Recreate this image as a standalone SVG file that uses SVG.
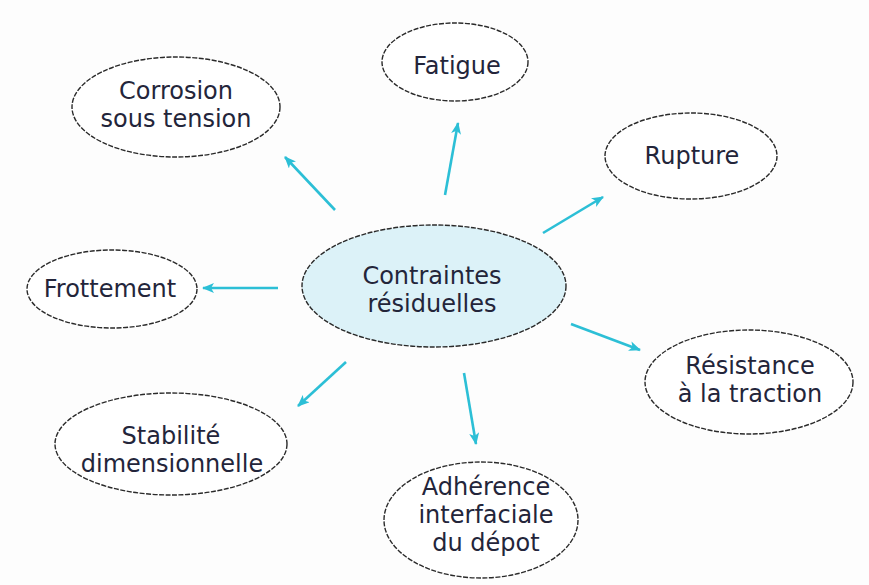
<svg xmlns="http://www.w3.org/2000/svg" width="869" height="585" viewBox="0 0 869 585">
<defs>
<style>
.node ellipse{fill:#ffffff;stroke:#2a2a2a;stroke-width:1.4;stroke-dasharray:5 1.5}
#center ellipse{fill:#dcf2f8}
text{font-family:"DejaVu Sans","Open Sans","Liberation Sans",sans-serif;font-size:24px;fill:#23253a;text-anchor:middle}
.arr{stroke:#2cbfd6;stroke-width:2.6;fill:none;marker-end:url(#ah)}
</style>
<marker id="ah" viewBox="0 0 12 10" refX="11" refY="5" markerWidth="12" markerHeight="10" markerUnits="userSpaceOnUse" orient="auto">
<path d="M0,0 L12,5 L0,10 L3,5 Z" fill="#2cbfd6"/>
</marker>
</defs>
<rect width="869" height="585" fill="#fdfdfd"/>
<g id="connectors">
<line class="arr" x1="335" y1="210" x2="285" y2="157"/>
<line class="arr" x1="445" y1="195" x2="458" y2="123"/>
<line class="arr" x1="543" y1="233" x2="603" y2="197"/>
<line class="arr" x1="278" y1="288" x2="203" y2="288"/>
<line class="arr" x1="571" y1="324" x2="640" y2="350"/>
<line class="arr" x1="346" y1="362" x2="298" y2="406"/>
<line class="arr" x1="464" y1="373" x2="476" y2="444"/>
</g>
<g id="center" class="node">
<ellipse cx="434" cy="286" rx="132" ry="61"/>
<text x="432" y="284">Contraintes</text>
<text x="432" y="312">résiduelles</text>
</g>
<g id="corrosion" class="node">
<ellipse cx="176" cy="107" rx="104" ry="50"/>
<text x="176" y="99">Corrosion</text>
<text x="176" y="127">sous tension</text>
</g>
<g id="fatigue" class="node">
<ellipse cx="455" cy="62" rx="73" ry="39"/>
<text x="457" y="74">Fatigue</text>
</g>
<g id="rupture" class="node">
<ellipse cx="691" cy="156" rx="86" ry="43"/>
<text x="692" y="164">Rupture</text>
</g>
<g id="frottement" class="node">
<ellipse cx="112" cy="289" rx="85" ry="39"/>
<text x="110" y="297">Frottement</text>
</g>
<g id="resistance" class="node">
<ellipse cx="749" cy="382" rx="104" ry="52"/>
<text x="750" y="374">Résistance</text>
<text x="750" y="402">à la traction</text>
</g>
<g id="stabilite" class="node">
<ellipse cx="171" cy="444" rx="116" ry="51"/>
<text x="171" y="444">Stabilité</text>
<text x="172" y="472">dimensionnelle</text>
</g>
<g id="adherence" class="node">
<ellipse cx="481" cy="520" rx="97" ry="58"/>
<text x="486" y="495">Adhérence</text>
<text x="486" y="523">interfaciale</text>
<text x="486" y="551">du dépot</text>
</g>
</svg>
